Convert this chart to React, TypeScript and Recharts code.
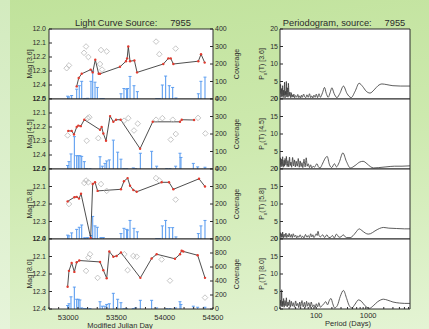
import React from "react";
import {
  ComposedChart,
  LineChart,
  Line,
  Bar,
  Scatter,
  XAxis,
  YAxis,
  CartesianGrid,
} from "recharts";

const FONT = "'Liberation Sans', Arial, sans-serif";
const INK = "#2b2b2b";
const BLUE = "#5d9ef0";

const bands = ["3.6", "4.5", "5.8", "8.0"];
const sourceId = "7955";

// axis ticks
const mjdTicks = [
  52800, 52900, 53000, 53100, 53200, 53300, 53400, 53500, 53600, 53700, 53800,
  53900, 54000, 54100, 54200, 54300, 54400, 54500,
];
const mjdLabels = [53000, 53500, 54000, 54500];
const periodTicks = [
  20, 30, 40, 50, 60, 70, 80, 90, 100, 200, 300, 400, 500, 600, 700, 800, 900,
  1000, 2000, 3000, 4000, 5000, 6000,
];
const periodLabels = [100, 1000];
const magTicksWide = [12.0, 12.1, 12.2, 12.3, 12.4, 12.5];
const magTicksNarrow = [12.0, 12.1, 12.2, 12.3, 12.4];
const covTicksSmall = [0, 100, 200, 300, 400];
const covTicksLarge = [0, 200, 400, 600, 800, 1000];
const powerTicks = [0, 5, 10, 15, 20];

// coverage epochs
const covDatesA = [
  52993, 53007, 53035, 53087, 53114, 53139, 53166, 53180, 53201, 53235, 53253,
  53277, 53301, 53339, 53363, 53546, 53577, 53605, 53615, 53640, 53681, 53716,
  53916, 53944, 53975, 54009, 54047, 54082, 54116, 54348, 54375, 54417,
];
const covDatesB = [
  52993, 53007, 53028, 53063, 53087, 53104, 53121, 53139, 53166, 53190, 53225,
  53329, 53353, 53380, 53398, 53425, 53467, 53512, 53546, 53577, 53605, 53674,
  53698, 53747, 53864, 53916, 54020, 54054, 54113, 54158, 54168, 54296, 54341,
  54417,
];
const cov36 = [
  16, 12, 20, 56, 76, 101, 2, 2, 4, 101, 159, 96, 66, 2, 2, 30, 60, 56, 60, 129,
  76, 42, 2, 2, 80, 131, 76, 66, 6, 30, 101, 125,
];
const cov45 = [
  20, 42, 86, 185, 76, 76, 76, 72, 42, 2, 1, 70, 16, 32, 46, 52, 165, 96, 56, 2,
  2, 6, 2, 90, 101, 16, 2, 2, 16, 90, 66, 32, 12, 10,
];
const cov58 = [
  22, 18, 35, 55, 67, 80, 6, 6, 8, 20, 129, 75, 67, 8, 8, 31, 61, 55, 51, 106,
  61, 41, 2, 2, 75, 106, 65, 65, 12, 31, 75, 106,
];
const cov80 = [
  50, 75, 174, 313, 139, 139, 129, 15, 5, 5, 5, 104, 40, 40, 65, 75, 224, 139,
  90, 5, 5, 5, 15, 124, 124, 15, 5, 5, 15, 104, 65, 40, 25, 25,
];

// light curves [mjd, mag]
const lc36: [number, number][] = [
  [53087, 12.41], [53108, 12.35], [53139, 12.32], [53232, 12.29], [53253, 12.31],
  [53280, 12.22], [53315, 12.32], [53329, 12.32], [53536, 12.27], [53598, 12.23],
  [53610, 12.21], [53622, 12.125], [53640, 12.23], [53685, 12.225], [53713, 12.31],
  [53985, 12.25], [54037, 12.21], [54062, 12.21], [54089, 12.25], [54348, 12.23],
  [54376, 12.18], [54414, 12.24],
];
const lc45: [number, number][] = [
  [53000, 12.228], [53035, 12.228], [53059, 12.254], [53087, 12.2], [53104, 12.19],
  [53129, 12.194], [53166, 12.148], [53329, 12.22], [53346, 12.2], [53363, 12.246],
  [53391, 12.298], [53433, 12.122], [53467, 12.163], [53495, 12.148], [53543, 12.148],
  [53744, 12.355], [53875, 12.163], [54158, 12.163], [54176, 12.148], [54304, 12.15],
];
const lc58: [number, number][] = [
  [52993, 12.185], [53063, 12.161], [53087, 12.159], [53111, 12.169], [53132, 12.141],
  [53232, 12.394], [53253, 12.086], [53277, 12.076], [53304, 12.125], [53546, 12.116],
  [53577, 12.07], [53615, 12.052], [53640, 12.096], [53674, 12.12], [53709, 12.13],
  [53968, 12.076], [54044, 12.076], [54089, 12.116], [54355, 12.056], [54417, 12.1],
];
const lc80: [number, number][] = [
  [52993, 12.273], [53007, 12.182], [53035, 12.137], [53063, 12.188], [53087, 12.133],
  [53114, 12.123], [53329, 12.131], [53363, 12.178], [53398, 12.224], [53425, 12.071],
  [53467, 12.101], [53501, 12.097], [53546, 12.077], [53747, 12.222], [53864, 12.111],
  [53916, 12.087], [54106, 12.113], [54158, 12.087], [54175, 12.067], [54192, 12.071],
  [54341, 12.093], [54417, 12.222],
];

// rejected / other points [mjd, mag]
const pts36: [number, number][] = [
  [52983, 12.28], [53007, 12.26], [53163, 12.17], [53184, 12.125], [53208, 12.2],
  [53329, 12.25], [53339, 12.15], [53350, 12.29], [53398, 12.16], [53910, 12.09],
  [53944, 12.18], [54113, 12.14],
];
const pts45: [number, number][] = [
  [52993, 12.26], [53191, 12.298], [53201, 12.137], [53218, 12.13], [53311, 12.28],
  [53578, 12.155], [53622, 12.137], [53681, 12.225], [53720, 12.176], [53910, 12.148],
  [53975, 12.137], [54083, 12.148], [54062, 12.29], [54114, 12.25], [54345, 12.135],
  [54421, 12.246],
];
const pts58: [number, number][] = [
  [53007, 12.2], [53166, 12.08], [53184, 12.066], [53208, 12.076], [53339, 12.086],
  [53398, 12.125], [53909, 12.052], [53944, 12.066], [54113, 12.175],
];
const pts80: [number, number][] = [
  [53184, 12.182], [53208, 12.107], [53225, 12.087], [53304, 12.222], [53581, 12.087],
  [53615, 12.178], [53674, 12.097], [53709, 12.101], [53968, 12.117], [54054, 12.238],
  [54417, 12.335],
];

// periodograms [period, power]
const pg36: [number, number][] = [
  [20, 1.5], [20.5, 4.2], [21, 0.5], [21.5, 3.0], [22, 0.8], [22.5, 3.8], [23, 0.4],
  [23.5, 2.5], [24, 1.0], [24.5, 4.8], [25, 0.3], [25.5, 2.2], [26, 1.2], [26.5, 5.0],
  [27, 0.6], [28, 3.2], [28.5, 0.5], [29, 4.5], [30, 0.8], [31, 2.0], [32, 0.4],
  [33, 1.8], [34, 0.5], [35, 1.2], [36, 0.6], [37, 1.4], [38, 0.3], [40, 1.0],
  [42, 0.5], [44, 1.3], [46, 0.4], [48, 0.9], [50, 0.3], [52, 1.1], [54, 0.5],
  [57, 1.4], [60, 0.6], [63, 0.4], [66, 1.2], [70, 0.5], [74, 1.5], [78, 0.4],
  [82, 0.9], [86, 0.3], [90, 1.1], [95, 0.5], [100, 1.4], [106, 0.4], [113, 1.5],
  [120, 0.5], [132, 1.8], [144, 3.3], [156, 1.6], [170, 0.5], [185, 1.8], [200, 3.2],
  [220, 1.6], [250, 0.4], [285, 1.6], [334, 3.7], [390, 1.6], [470, 0.4], [560, 2.2],
  [670, 4.5], [780, 3.6], [920, 2.2], [1090, 1.7], [1300, 2.6], [1550, 3.8],
  [1840, 4.3], [2300, 4.1], [3000, 3.8], [4200, 3.7], [6400, 3.7],
];
const pg45: [number, number][] = [
  [20, 1.0], [20.5, 3.2], [21, 0.6], [21.5, 2.8], [22, 0.9], [22.5, 3.5], [23, 0.5],
  [24, 2.5], [24.5, 0.8], [25, 3.0], [26, 1.2], [26.5, 3.6], [27.5, 0.7], [28.5, 2.4],
  [29.5, 0.6], [30.5, 3.4], [31.5, 1.0], [32.5, 2.0], [33.5, 0.5], [35, 3.3],
  [36.5, 0.9], [38, 2.6], [39.5, 0.6], [41, 2.2], [43, 0.8], [45, 3.0], [47, 0.5],
  [49, 2.3], [51, 0.7], [53, 1.8], [55, 0.4], [58, 2.8], [61, 0.6], [64, 3.2],
  [67, 0.8], [70, 1.5], [74, 0.4], [78, 1.2], [82, 0.3], [87, 0.8], [92, 0.5],
  [97, 1.0], [103, 1.5], [110, 0.6], [118, 0.3], [130, 1.3], [145, 2.8], [162, 3.6],
  [180, 1.2], [198, 0.4], [224, 1.5], [245, 0.6], [275, 1.8], [326, 4.6], [380, 2.2],
  [454, 0.3], [560, 1.0], [690, 2.0], [800, 2.2], [950, 1.5], [1100, 0.7],
  [1270, 0.3], [1600, 0.4], [2200, 0.6], [3200, 0.8], [4500, 0.8], [6400, 0.9],
];
const pg58: [number, number][] = [
  [20, 0.8], [20.5, 1.8], [21, 0.4], [21.5, 1.5], [22, 0.6], [22.5, 2.0], [23, 0.3],
  [24, 1.4], [25, 0.5], [26, 1.7], [27, 0.4], [28, 1.2], [29, 0.6], [30, 1.6],
  [31.5, 0.5], [33, 1.3], [34.5, 0.4], [36, 1.5], [38, 0.6], [40, 1.1], [42, 0.3],
  [44, 0.9], [46, 0.5], [49, 1.2], [52, 0.4], [55, 0.8], [58, 0.3], [62, 1.3],
  [66, 0.5], [70, 1.0], [74, 0.4], [78, 1.5], [82, 0.6], [86, 1.2], [90, 0.4],
  [95, 0.9], [100, 1.5], [104, 1.0], [108, 2.2], [113, 1.0], [120, 0.6], [133, 1.2],
  [145, 0.4], [160, 1.2], [172, 0.5], [185, 0.4], [205, 1.0], [222, 0.3], [245, 1.4],
  [275, 0.5], [300, 0.6], [330, 1.2], [380, 0.4], [450, 0.4], [530, 1.2], [600, 2.2],
  [670, 2.9], [760, 2.4], [880, 1.7], [1000, 1.4], [1100, 1.5], [1350, 2.3],
  [1650, 3.0], [1960, 3.3], [2500, 3.1], [3500, 3.0], [5000, 2.9], [6400, 2.9],
];
const pg80: [number, number][] = [
  [20, 1.2], [20.5, 2.5], [21, 0.8], [21.5, 5.5], [22, 0.6], [22.5, 2.2], [23, 1.0],
  [23.5, 3.0], [24, 0.5], [25, 2.4], [26, 0.9], [26.5, 3.2], [27.5, 0.6], [28.5, 2.0],
  [29.5, 1.0], [30.5, 2.6], [31.5, 0.5], [33, 2.2], [34.5, 0.8], [36, 1.8], [38, 0.5],
  [40, 2.3], [42, 0.9], [44, 1.6], [46, 0.4], [48, 2.0], [50, 0.7], [53, 2.4],
  [56, 0.6], [59, 1.9], [62, 0.5], [65, 2.2], [68, 0.8], [72, 1.8], [76, 0.4],
  [80, 2.0], [85, 0.6], [90, 1.2], [95, 0.4], [100, 1.5], [106, 0.6], [112, 1.8],
  [120, 0.5], [130, 1.0], [140, 1.5], [152, 2.1], [165, 1.2], [178, 2.4], [192, 3.0],
  [208, 1.5], [225, 0.3], [255, 1.0], [290, 3.6], [334, 5.3], [385, 3.0], [430, 1.0],
  [486, 0.3], [560, 1.4], [650, 2.6], [740, 2.2], [860, 1.0], [1060, 0.2],
  [1250, 0.9], [1500, 2.0], [1750, 2.6], [1960, 2.8], [2400, 2.5], [3000, 2.0],
  [4000, 1.7], [5000, 1.6], [6400, 1.6],
];

const panelTops = [29, 99, 169, 239];
const PANEL_H = 70;

const CovBar = (props: any) => {
  const { x, y, width, height } = props;
  if (x == null || y == null || !isFinite(y) || !height) return null;
  const cx = x + width / 2;
  return (
    <g>
      <line x1={cx} x2={cx} y1={y} y2={y + height} stroke={BLUE} strokeWidth={1.1} />
      <line x1={cx - 1.5} x2={cx + 1.5} y1={y} y2={y} stroke={BLUE} strokeWidth={1} />
    </g>
  );
};

const Diamond = (props: any) => {
  const { cx, cy } = props;
  if (cx == null || cy == null) return null;
  const r = 2.8;
  return (
    <path
      d={`M${cx},${cy - r}L${cx + r},${cy}L${cx},${cy + r}L${cx - r},${cy}Z`}
      fill="none"
      stroke="#b8b8b8"
      strokeWidth={0.8}
    />
  );
};

const tickStyle = { fontSize: 7, fill: INK, fontFamily: FONT };

const VLabel = ({ x, y, children }: { x: number; y: number; children: any }) => (
  <div
    style={{
      position: "absolute",
      left: x,
      top: y,
      transform: "translate(-50%, -50%) rotate(-90deg)",
      whiteSpace: "nowrap",
      fontSize: 7,
      fontFamily: FONT,
      color: INK,
    }}
  >
    {children}
  </div>
);

const HLabel = ({ x, y, size, children }: { x: number; y: number; size: number; children: any }) => (
  <div
    style={{
      position: "absolute",
      left: x,
      top: y,
      transform: "translate(-50%, -50%)",
      whiteSpace: "pre",
      fontSize: size,
      fontFamily: FONT,
      color: INK,
    }}
  >
    {children}
  </div>
);

interface LcProps {
  line: [number, number][];
  marks: [number, number][];
  dates: number[];
  cov: number[];
  magTicks: number[];
  covTicks: number[];
  top: number;
  last: boolean;
}

const LightCurvePanel = ({ line, marks, dates, cov, magTicks, covTicks, top, last }: LcProps) => {
  const data = dates.map((mjd, i) => ({ mjd, cov: cov[i] }));
  const lineData = line.map(([mjd, mag]) => ({ mjd, mag }));
  const markData = marks.map(([mjd, mag]) => ({ mjd, mag }));
  return (
    <div style={{ position: "absolute", left: 0, top: top - 5 }}>
      <ComposedChart
        width={250}
        height={last ? 95 : 80}
        data={data}
        margin={{ top: 4, right: 0, bottom: last ? 0 : 4, left: 0 }}
      >
        <CartesianGrid yAxisId="mag" fill="#fff" stroke="none" horizontal={false} vertical={false} />
        <XAxis
          xAxisId="top"
          orientation="top"
          type="number"
          dataKey="mjd"
          domain={[52800, 54500]}
          ticks={mjdTicks}
          interval={0}
          allowDataOverflow
          height={1}
          tick={false}
          tickSize={-2}
          stroke={INK}
        />
        <XAxis
          type="number"
          dataKey="mjd"
          domain={[52800, 54500]}
          ticks={mjdTicks}
          interval={0}
          allowDataOverflow
          height={last ? 20 : 1}
          tickSize={-2}
          tickMargin={8}
          tick={last ? { ...tickStyle, fontSize: 7.5 } : false}
          tickFormatter={(v: number) => (mjdLabels.includes(v) ? String(v) : "")}
          stroke={INK}
        />
        <YAxis
          yAxisId="mag"
          dataKey="mag"
          reversed
          domain={[magTicks[0], magTicks[magTicks.length - 1]]}
          ticks={magTicks}
          interval={0}
          allowDataOverflow
          width={49}
          tickSize={-3}
          tickMargin={6}
          tick={tickStyle}
          tickFormatter={(v: number) => v.toFixed(1)}
          stroke={INK}
        />
        <YAxis
          yAxisId="cov"
          orientation="right"
          dataKey="cov"
          domain={[0, covTicks[covTicks.length - 1]]}
          ticks={covTicks}
          interval={0}
          allowDataOverflow
          width={37}
          tickSize={-3}
          tickMargin={5}
          tick={tickStyle}
          stroke={INK}
        />
        <Bar yAxisId="cov" dataKey="cov" barSize={3} shape={<CovBar />} isAnimationActive={false} />
        <Scatter yAxisId="mag" data={markData} shape={<Diamond />} isAnimationActive={false} />
        <Line
          yAxisId="mag"
          data={lineData}
          dataKey="mag"
          type="linear"
          stroke="#3a3a3a"
          strokeWidth={0.9}
          dot={{ r: 1.2, fill: "#e23a2e", stroke: "#e23a2e", strokeWidth: 0 }}
          isAnimationActive={false}
        />
      </ComposedChart>
    </div>
  );
};

const PeriodogramPanel = ({ series, top, last }: { series: [number, number][]; top: number; last: boolean }) => {
  const data = series.map(([p, pw]) => ({ p, pw }));
  return (
    <div style={{ position: "absolute", left: 230, top: top - 5 }}>
      <LineChart
        width={199}
        height={last ? 95 : 80}
        data={data}
        margin={{ top: 4, right: 18, bottom: last ? 0 : 4, left: 0 }}
      >
        <CartesianGrid fill="#fff" stroke="none" horizontal={false} vertical={false} />
        <XAxis
          xAxisId="top"
          orientation="top"
          type="number"
          scale="log"
          dataKey="p"
          domain={[20, 6400]}
          ticks={periodTicks}
          interval={0}
          allowDataOverflow
          height={1}
          tick={false}
          tickSize={-2}
          stroke={INK}
        />
        <XAxis
          type="number"
          scale="log"
          dataKey="p"
          domain={[20, 6400]}
          ticks={periodTicks}
          interval={0}
          allowDataOverflow
          height={last ? 20 : 1}
          tickSize={-2}
          tickMargin={6}
          tick={last ? { ...tickStyle, fontSize: 7.5 } : false}
          tickFormatter={(v: number) => (periodLabels.includes(v) ? String(v) : "")}
          stroke={INK}
        />
        <YAxis
          domain={[0, 20]}
          ticks={powerTicks}
          interval={0}
          allowDataOverflow
          width={50}
          tickSize={-3}
          tickMargin={5}
          tick={tickStyle}
          stroke={INK}
        />
        <YAxis
          yAxisId="r"
          orientation="right"
          domain={[0, 20]}
          ticks={powerTicks}
          interval={0}
          width={1}
          tick={false}
          tickSize={-2}
          stroke={INK}
        />
        <Line
          dataKey="pw"
          type="monotone"
          stroke="#333"
          strokeWidth={0.8}
          dot={false}
          isAnimationActive={false}
        />
      </LineChart>
    </div>
  );
};

export default function App() {
  const lcs = [lc36, lc45, lc58, lc80];
  const pts = [pts36, pts45, pts58, pts80];
  const covs = [cov36, cov45, cov58, cov80];
  const dates = [covDatesA, covDatesB, covDatesA, covDatesB];
  const magTicks = [magTicksWide, magTicksWide, magTicksNarrow, magTicksNarrow];
  const covTicks = [covTicksSmall, covTicksSmall, covTicksSmall, covTicksLarge];
  const pgs = [pg36, pg45, pg58, pg80];

  return (
    <div
      style={{
        position: "absolute",
        left: 0,
        top: 0,
        width: 429,
        height: 329,
        overflow: "hidden",
        background: "linear-gradient(172deg, #c0e29b 0%, #cde9ae 45%, #e4f4d4 100%)",
      }}
    >
      <div
        style={{
          position: "absolute",
          left: 0,
          top: 0,
          width: 10,
          height: 329,
          background: "linear-gradient(180deg, #d3ebbf, #e6f4da)",
        }}
      />
      <HLabel x={133} y={23} size={9.3}>
        {`Light Curve Source:     ${sourceId}`}
      </HLabel>
      <HLabel x={344} y={23} size={9.3}>
        {`Periodogram, source:     ${sourceId}`}
      </HLabel>

      {bands.map((b, i) => (
        <LightCurvePanel
          key={"lc" + b}
          line={lcs[i]}
          marks={pts[i]}
          dates={dates[i]}
          cov={covs[i]}
          magTicks={magTicks[i]}
          covTicks={covTicks[i]}
          top={panelTops[i]}
          last={i === bands.length - 1}
        />
      ))}
      {bands.map((b, i) => (
        <PeriodogramPanel key={"pg" + b} series={pgs[i]} top={panelTops[i]} last={i === bands.length - 1} />
      ))}

      {bands.map((b, i) => (
        <React.Fragment key={"lab" + b}>
          <VLabel x={29} y={panelTops[i] + PANEL_H / 2}>{`Mag [${b}]`}</VLabel>
          <VLabel x={236} y={panelTops[i] + PANEL_H / 2}>Coverage</VLabel>
          <VLabel x={263} y={panelTops[i] + PANEL_H / 2}>
            <span>
              P<sub style={{ fontSize: 5 }}>x</sub>(T) [{b}]
            </span>
          </VLabel>
        </React.Fragment>
      ))}

      <HLabel x={120} y={325} size={7.5}>
        Modified Julian Day
      </HLabel>
      <HLabel x={348} y={323} size={7.5}>
        Period (Days)
      </HLabel>
    </div>
  );
}
